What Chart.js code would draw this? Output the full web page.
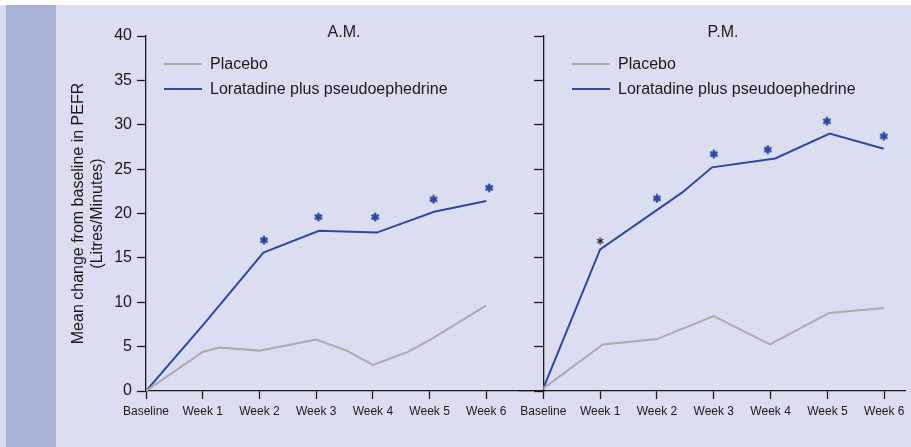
<!DOCTYPE html>
<html>
<head>
<meta charset="utf-8">
<script src="https://cdn.jsdelivr.net/npm/chart.js@4.4.1/dist/chart.umd.min.js"></script>
<style>
  html, body { margin: 0; padding: 0; background: #fff; }
  #page { position: relative; width: 911px; height: 447px; overflow: hidden;
          font-family: 'Liberation Sans', Arial, sans-serif; color: #1a1a1a; }
  #bg { position: absolute; left: 0; top: 5px; width: 911px; height: 442px; background: #dbdef0; }
  #strip { position: absolute; left: 6px; top: 5px; width: 50px; height: 442px; background: #a8b1d6; }
  .panel { position: absolute; top: 5px; height: 442px; }
  /* chart.js keeps 5px at the inner edges, so the canvases overlap a little */
  #amBox { left: 56px; width: 480px; }
  #pmBox { left: 515px; width: 396px; }
  .title { position: absolute; top: 22px; font-size: 16px; line-height: 20px; transform: translateX(-50%); }
  .row { position: absolute; height: 20px; display: flex; align-items: center; font-size: 16px; line-height: 20px; white-space: nowrap; }
  .swatch { display: inline-block; width: 38px; height: 2px; margin-right: 8px; }
</style>
</head>
<body>
<div id="page">
  <div id="bg"></div>
  <div id="strip"></div>
  <div class="panel" id="amBox"><canvas id="amChart"></canvas></div>
  <div class="panel" id="pmBox"><canvas id="pmChart"></canvas></div>

  <div class="title" style="left:344px">A.M.</div>
  <div class="title" style="left:723px">P.M.</div>

  <div class="row" style="left:164px; top:54px"><span class="swatch" style="background:#ababab"></span>Placebo</div>
  <div class="row" style="left:164px; top:79px"><span class="swatch" style="background:#2d4a9e"></span>Loratadine plus pseudoephedrine</div>
  <div class="row" style="left:572px; top:54px"><span class="swatch" style="background:#ababab"></span>Placebo</div>
  <div class="row" style="left:572px; top:79px"><span class="swatch" style="background:#2d4a9e"></span>Loratadine plus pseudoephedrine</div>
</div>

<script>
const weekLabels = ['Baseline', 'Week 1', 'Week 2', 'Week 3', 'Week 4', 'Week 5', 'Week 6'];
const yTitle = ['Mean change from baseline in PEFR', '(Litres/Minutes)'];

// A.M. panel (x in weeks from baseline)
const amPlaceboX = [0, 1, 1.29, 2, 3, 3.54, 4, 4.62, 5.06, 6];
const amPlaceboY = [0, 4.4, 4.9, 4.55, 5.8, 4.55, 2.95, 4.4, 5.95, 9.65];
const amDrugX = [0, 1, 2.07, 3.05, 4.07, 5.08, 6];
const amDrugY = [0, 7.4, 15.6, 18.05, 17.85, 20.2, 21.4];
const amSigX = [2.08, 3.04, 4.04, 5.07, 6.05];
const amSigY = [17.0, 19.6, 19.6, 21.6, 22.9];

// P.M. panel
const pmPlaceboX = [0, 1.05, 2, 3, 3.99, 5.03, 6];
const pmPlaceboY = [0.3, 5.25, 5.85, 8.45, 5.25, 8.8, 9.35];
const pmDrugX = [0, 1, 2.44, 2.97, 4.08, 5.04, 5.99];
const pmDrugY = [0.3, 15.95, 22.35, 25.2, 26.2, 29.0, 27.3];
const pmSigBlackX = [1.0];
const pmSigBlackY = [16.9];
const pmSigX = [2.0, 3.0, 3.95, 4.99, 5.99];
const pmSigY = [21.7, 26.7, 27.2, 30.4, 28.7];

const ink = '#1a1a1a';
const blue = '#2d4a9e';
const grey = '#ababab';
const fontFamily = "'Liberation Sans', Arial, sans-serif";

// small asterisk marker used as point style
function makeStar(color, lw, r) {
    const c = document.createElement('canvas');
    c.width = c.height = 2 * r + 4;
    const g = c.getContext('2d');
    g.strokeStyle = color;
    g.lineWidth = lw;
    g.lineCap = 'round';
    g.translate(c.width / 2, c.height / 2);
    for (let i = 0; i < 3; i++) {
        const a = Math.PI / 2 + i * Math.PI / 3;
        g.beginPath();
        g.moveTo(Math.cos(a) * r, Math.sin(a) * r);
        g.lineTo(-Math.cos(a) * r, -Math.sin(a) * r);
        g.stroke();
    }
    return c;
}
const blueStar = makeStar(blue, 2.4, 3.2);
const blackStar = makeStar(ink, 1.3, 3);

const zip = (xs, ys) => xs.map((x, i) => ({ x: x, y: ys[i] }));

function lineSet(xs, ys, color) {
    return { data: zip(xs, ys), borderColor: color, borderWidth: 2, pointRadius: 0, tension: 0 };
}
function starSet(xs, ys, img) {
    return { data: zip(xs, ys), showLine: false, pointStyle: img, pointRadius: 4 };
}

function makePanel(id, datasets, xMin, xMax, isLeft, padRight) {
    const yScale = {
        min: 0,
        max: 40,
        ticks: { stepSize: 5, color: ink, font: { size: 16, family: fontFamily }, padding: 5, display: isLeft },
        grid: { drawOnChartArea: false, tickLength: 9, color: ink, tickWidth: 1.3 },
        border: { color: ink, width: 1.3 }
    };
    if (isLeft) {
        yScale.title = { display: true, text: yTitle, color: ink,
                         font: { size: 16, family: fontFamily }, padding: { top: 13, bottom: 0 } };
        yScale.afterFit = s => { s.width = 90; };
    } else {
        yScale.position = { x: 0 };
    }

    return new Chart(document.getElementById(id), {
        type: 'line',
        data: { datasets: datasets },
        options: {
            responsive: true,
            maintainAspectRatio: false,
            animation: false,
            layout: { padding: { top: 31, right: padRight, left: 0, bottom: 0 } },
            plugins: { legend: { display: false }, tooltip: { enabled: false } },
            scales: {
                x: {
                    type: 'linear',
                    position: 'bottom',
                    min: xMin,
                    max: xMax,
                    afterBuildTicks: s => { s.ticks = weekLabels.map((l, i) => ({ value: i })); },
                    afterFit: s => { s.height = 56; s.paddingLeft = 0; s.paddingRight = 0; },
                    ticks: {
                        autoSkip: false,
                        maxRotation: 0,
                        padding: 5,
                        color: ink,
                        font: { size: 12, family: fontFamily },
                        callback: (v, i) => weekLabels[i]
                    },
                    grid: { drawOnChartArea: false, tickLength: 8, color: ink, tickWidth: 1.3 },
                    border: { color: ink, width: 1.3 }
                },
                y: yScale
            }
        }
    });
}

// A.M. axis line runs on under the P.M. panel, so max goes past Week 6
makePanel('amChart', [
    lineSet(amPlaceboX, amPlaceboY, grey),
    lineSet(amDrugX, amDrugY, blue),
    starSet(amSigX, amSigY, blueStar)
], 0, 6.788, true, 0);

makePanel('pmChart', [
    lineSet(pmPlaceboX, pmPlaceboY, grey),
    lineSet(pmDrugX, pmDrugY, blue),
    starSet(pmSigBlackX, pmSigBlackY, blackStar),
    starSet(pmSigX, pmSigY, blueStar)
], -0.41, 6.365, false, 6);
</script>
</body>
</html>
